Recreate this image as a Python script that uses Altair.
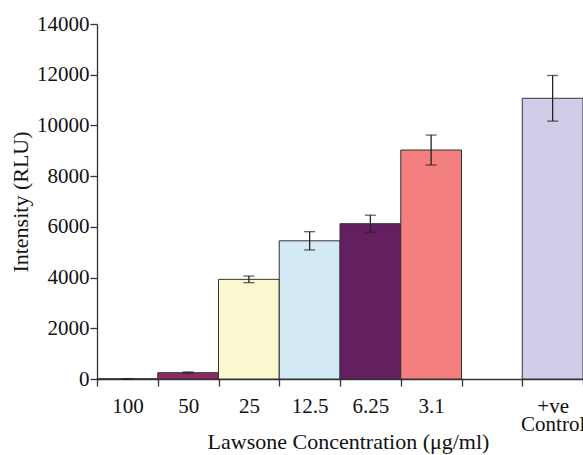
import altair as alt
import pandas as pd

categories = ["100", "50", "25", "12.5", "6.25", "3.1", " ", "+ve Control"]
bar_cats = ["100", "50", "25", "12.5", "6.25", "3.1", "+ve Control"]
values = [5, 250, 3930, 5450, 6125, 9030, 11070]
errors = [5, 30, 130, 360, 335, 590, 900]
colors = ["#7a2a5c", "#8c2b63", "#fbf8cf", "#d3e9f4", "#641f60", "#f47f7f", "#d0cde8"]

df = pd.DataFrame({"cat": bar_cats, "val": values, "err": errors, "col": colors})
df["lo"] = df["val"] - df["err"]
df["hi"] = df["val"] + df["err"]

font = "Liberation Serif"

x = alt.X(
    "cat:N",
    scale=alt.Scale(domain=categories, paddingInner=0, paddingOuter=0),
    axis=alt.Axis(
        title="Lawsone Concentration (μg/ml)",
        labelAngle=0,
        tickBand="extent",
        tickSize=7,
        labelPadding=9,
        labelLineHeight=18,
        labelExpr="datum.label == '+ve Control' ? ['+ve', 'Control'] : datum.label",
        titleX=251,
        titleY=69,
        titleBaseline="alphabetic",
    ),
)

bars = alt.Chart(df).mark_bar(stroke="#333333", strokeWidth=1).encode(
    x=x,
    y=alt.Y(
        "val:Q",
        scale=alt.Scale(domain=[0, 14000], nice=False),
        axis=alt.Axis(
            title="Intensity (RLU)",
            values=list(range(0, 14001, 2000)),
            format="d",
            tickSize=7,
            labelPadding=1,
            grid=False,
            titleX=-70,
            titleBaseline="alphabetic",
        ),
    ),
    fill=alt.Fill("col:N", scale=None),
)

rules = alt.Chart(df).mark_rule(color="#222222", strokeWidth=1.3).encode(
    x=alt.X("cat:N", scale=alt.Scale(domain=categories)), y="lo:Q", y2="hi:Q"
)
cap_lo = alt.Chart(df).mark_tick(color="#222222", thickness=1.3, size=11).encode(
    x=alt.X("cat:N", scale=alt.Scale(domain=categories)), y="lo:Q"
)
cap_hi = alt.Chart(df).mark_tick(color="#222222", thickness=1.3, size=11).encode(
    x=alt.X("cat:N", scale=alt.Scale(domain=categories)), y="hi:Q"
)

chart = (
    alt.layer(bars, rules, cap_lo, cap_hi)
    .properties(
        width=486,
        height=355,
        autosize=alt.AutoSizeParams(type="none"),
        padding={"left": 97, "top": 24, "right": 0, "bottom": 76},
    )
    .configure_view(stroke=None)
    .configure_axis(
        labelFont=font,
        titleFont=font,
        labelFontSize=21,
        titleFontSize=22,
        labelColor="#111111",
        titleColor="#111111",
        titleFontWeight="normal",
        domainColor="#333333",
        tickColor="#333333",
        domainWidth=1.3,
        tickWidth=1.3,
    )
)

chart.save("out.html", embed_options={"renderer": "svg", "actions": False})
